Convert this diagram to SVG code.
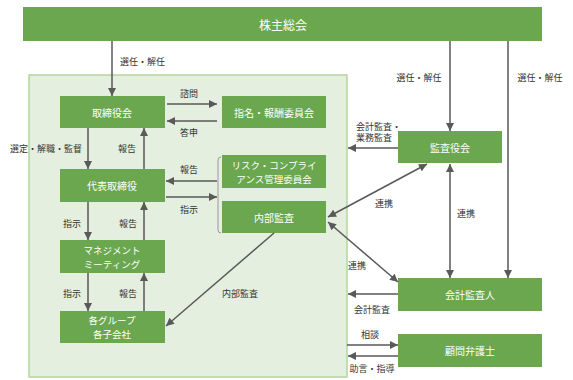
<svg xmlns="http://www.w3.org/2000/svg" width="573" height="380" viewBox="0 0 573 380">
<style>
  .box{fill:#6aa74f;}
  .bt{fill:#ffffff;font-family:"Noto Sans CJK JP","Noto Sans",sans-serif;font-size:10px;text-anchor:middle;dominant-baseline:central;}
  .bt2{font-size:9.5px;}
  .lb{fill:#333333;font-family:"Noto Sans CJK JP","Noto Sans",sans-serif;font-size:9px;text-anchor:middle;dominant-baseline:central;}
  .ar{stroke:#595959;stroke-width:1.5;fill:none;marker-end:url(#ah);}
  .dar{stroke:#595959;stroke-width:1.5;fill:none;marker-end:url(#ah);marker-start:url(#ah);}
</style>
<defs>
  <marker id="ah" viewBox="0 0 10 10" refX="10" refY="5" markerUnits="userSpaceOnUse" markerWidth="9" markerHeight="8" orient="auto-start-reverse">
    <path d="M0,0 L10,5 L0,10 z" fill="#595959"/>
  </marker>
</defs>
<rect x="0" y="0" width="573" height="380" fill="#ffffff"/>
<rect id="container" x="29" y="75" width="318" height="302" fill="#e5efdf" stroke="#b3d59e" stroke-width="1.5"/>

<g id="shareholders"><rect class="box" x="23" y="7" width="519" height="34"/><text class="bt" x="283" y="24" style="font-size:12px">株主総会</text></g>
<g id="board"><rect class="box" x="60" y="96" width="105" height="32"/><text class="bt" x="112" y="112">取締役会</text></g>
<g id="nomination"><rect class="box" x="222" y="96" width="104" height="32"/><text class="bt" x="274" y="112">指名・報酬委員会</text></g>
<g id="ceo"><rect class="box" x="60" y="169" width="105" height="33"/><text class="bt" x="112" y="185.5">代表取締役</text></g>
<g id="risk"><rect class="box" x="222" y="155" width="104" height="33"/><text class="bt bt2" x="274" y="165"><tspan x="274" y="165">リスク・コンプライ</tspan><tspan x="274" y="178.5">アンス管理委員会</tspan></text></g>
<g id="internal-audit"><rect class="box" x="222" y="201" width="104" height="32"/><text class="bt" x="274" y="217">内部監査</text></g>
<g id="management"><rect class="box" x="60" y="240" width="105" height="33"/><text class="bt bt2" x="112" y="250"><tspan x="112" y="250">マネジメント</tspan><tspan x="112" y="263.5">ミーティング</tspan></text></g>
<g id="group"><rect class="box" x="60" y="311" width="105" height="32"/><text class="bt bt2" x="112" y="320"><tspan x="112" y="320">各グループ</tspan><tspan x="112" y="333.5">各子会社</tspan></text></g>
<g id="auditors"><rect class="box" x="398" y="131" width="104" height="32"/><text class="bt" x="450" y="147">監査役会</text></g>
<g id="accounting-auditor"><rect class="box" x="398" y="278" width="144" height="33"/><text class="bt" x="470" y="294.5">会計監査人</text></g>
<g id="lawyer"><rect class="box" x="398" y="334" width="144" height="33"/><text class="bt" x="470" y="350.5">顧問弁護士</text></g>

<g id="connectors">
  <path d="M221,157 Q218,157 218,160 L218,230 Q218,233 221,233" stroke="#999999" stroke-width="1" fill="none"/>
  <line class="ar" x1="112" y1="41" x2="112" y2="96"/>
  <line class="ar" x1="167" y1="104" x2="217" y2="104"/>
  <line class="ar" x1="217" y1="121" x2="167" y2="121"/>
  <line class="ar" x1="88" y1="128" x2="88" y2="169"/>
  <line class="ar" x1="144" y1="169" x2="144" y2="128"/>
  <line class="ar" x1="217" y1="181" x2="166" y2="181"/>
  <line class="ar" x1="166" y1="197" x2="217" y2="197"/>
  <line class="ar" x1="88" y1="202" x2="88" y2="240"/>
  <line class="ar" x1="144" y1="240" x2="144" y2="202"/>
  <line class="ar" x1="88" y1="273" x2="88" y2="311"/>
  <line class="ar" x1="144" y1="311" x2="144" y2="273"/>
  <line class="ar" x1="274" y1="233" x2="166" y2="326"/>
  <line class="ar" x1="450" y1="41" x2="450" y2="131"/>
  <line class="ar" x1="508" y1="41" x2="508" y2="278"/>
  <line class="ar" x1="398" y1="148" x2="348" y2="148"/>
  <line class="dar" x1="427" y1="164" x2="328" y2="217"/>
  <line class="dar" x1="450" y1="164" x2="450" y2="278"/>
  <line class="dar" x1="328" y1="222" x2="398" y2="282"/>
  <line class="ar" x1="398" y1="294" x2="348" y2="294"/>
  <line class="ar" x1="347" y1="345" x2="398" y2="345"/>
  <line class="ar" x1="398" y1="356" x2="348" y2="356"/>
</g>

<g id="labels">
  <text class="lb" x="120" y="61" style="text-anchor:start">選任・解任</text>
  <text class="lb" x="189" y="93">諮問</text>
  <text class="lb" x="189" y="132">答申</text>
  <text class="lb" x="10" y="148" style="text-anchor:start">選定・解職・監督</text>
  <text class="lb" x="127" y="148">報告</text>
  <text class="lb" x="189" y="169">報告</text>
  <text class="lb" x="189" y="209">指示</text>
  <text class="lb" x="72" y="223">指示</text>
  <text class="lb" x="128" y="223">報告</text>
  <text class="lb" x="72" y="293">指示</text>
  <text class="lb" x="128" y="293">報告</text>
  <text class="lb" x="240" y="293">内部監査</text>
  <text class="lb" x="419" y="77">選任・解任</text>
  <text class="lb" x="540" y="77">選任・解任</text>
  <text class="lb" x="356" y="125.5" style="text-anchor:start"><tspan x="356" y="125.5">会計監査・</tspan><tspan x="356" y="137">業務監査</tspan></text>
  <text class="lb" x="384" y="203">連携</text>
  <text class="lb" x="466" y="213">連携</text>
  <text class="lb" x="357" y="265">連携</text>
  <text class="lb" x="372" y="309">会計監査</text>
  <text class="lb" x="370" y="334">相談</text>
  <text class="lb" x="372" y="368">助言・指導</text>
</g>
</svg>
